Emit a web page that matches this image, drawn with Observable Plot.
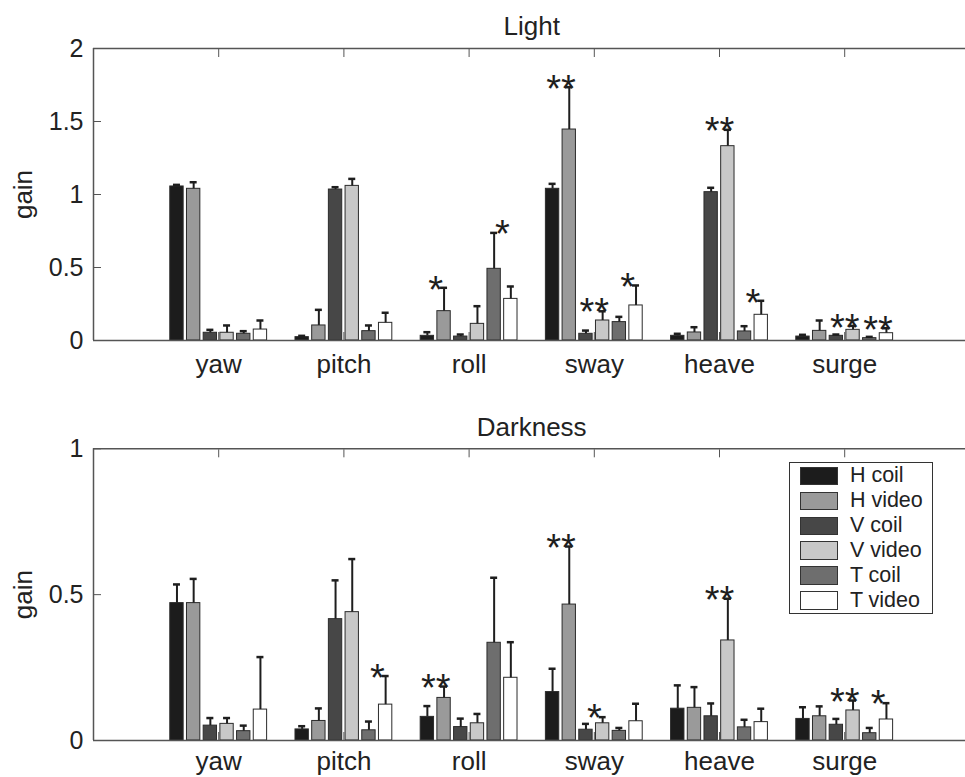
<!DOCTYPE html>
<html>
<head>
<meta charset="utf-8">
<script src="https://cdn.jsdelivr.net/npm/d3@7"></script>
<script src="https://cdn.jsdelivr.net/npm/@observablehq/plot@0.6"></script>
<style>
  html, body { margin: 0; padding: 0; background: #fff; overflow: hidden; }
  #page { position: relative; width: 965px; height: 777px; overflow: hidden; font-family: 'Liberation Sans', Arial, sans-serif; }
  .panel { position: absolute; left: 0; }
  #legend { position: absolute; left: 788.7px; top: 461.7px; width: 142.6px; height: 149.3px; border: 1.5px solid #333; background: #fff; padding-top: 1px; }
  .lrow { height: 24.9px; display: flex; align-items: center; }
  .lsw { width: 35.7px; height: 16.7px; border: 1px solid #333; margin-left: 10.5px; }
  .ltx { margin-left: 12px; font-size: 21.5px; color: #222; line-height: 1; }
</style>
</head>
<body>
<div id="page">
  <div id="p1" class="panel" style="top:0"></div>
  <div id="p2" class="panel" style="top:390px"></div>
  <div id="legend"></div>
</div>
<script>
// ---- data ----
const categories = ["yaw", "pitch", "roll", "sway", "heave", "surge"];
const series = ["H coil", "H video", "V coil", "V video", "T coil", "T video"];
const seriesColors = ["#1c1c1c", "#9a9a9a", "#474747", "#c8c8c8", "#6e6e6e", "#ffffff"];

// Light: mean gain per series (rows) and category (columns)
const lightGain = [
  [1.055, 0.023, 0.032, 1.039, 0.032, 0.027],
  [1.039, 0.103, 0.201, 1.445, 0.055, 0.066],
  [0.053, 1.034, 0.027, 0.046, 1.016, 0.032],
  [0.053, 1.059, 0.114, 0.137, 1.331, 0.073],
  [0.046, 0.064, 0.491, 0.126, 0.062, 0.016],
  [0.075, 0.121, 0.285, 0.240, 0.176, 0.050]
];
// Light: top of error bar
const lightErrTop = [
  [1.066, 0.032, 0.057, 1.073, 0.046, 0.039],
  [1.084, 0.210, 0.361, 1.735, 0.091, 0.137],
  [0.073, 1.050, 0.041, 0.068, 1.046, 0.041],
  [0.103, 1.107, 0.235, 0.200, 1.443, 0.100],
  [0.064, 0.103, 0.737, 0.162, 0.098, 0.025],
  [0.137, 0.190, 0.370, 0.377, 0.272, 0.084]
];
const lightStars = [
  {cat: "roll", ser: "H video", y: 0.41, t: "*"},
  {cat: "roll", ser: "T video", y: 0.79, t: "*"},
  {cat: "sway", ser: "H video", y: 1.78, t: "**"},
  {cat: "sway", ser: "V video", y: 0.253, t: "**"},
  {cat: "sway", ser: "T video", y: 0.43, t: "*"},
  {cat: "heave", ser: "V video", y: 1.495, t: "**"},
  {cat: "heave", ser: "T video", y: 0.32, t: "*"},
  {cat: "surge", ser: "V video", y: 0.148, t: "**"},
  {cat: "surge", ser: "T video", y: 0.13, t: "**"}
];

// Darkness
const darkGain = [
  [0.471, 0.038, 0.081, 0.166, 0.109, 0.074],
  [0.471, 0.067, 0.146, 0.466, 0.112, 0.083],
  [0.051, 0.416, 0.046, 0.037, 0.083, 0.054],
  [0.057, 0.440, 0.059, 0.059, 0.343, 0.103],
  [0.032, 0.035, 0.335, 0.033, 0.045, 0.025],
  [0.106, 0.123, 0.215, 0.066, 0.063, 0.072]
];
const darkErrTop = [
  [0.535, 0.049, 0.118, 0.246, 0.189, 0.114],
  [0.554, 0.110, 0.185, 0.665, 0.183, 0.117],
  [0.077, 0.549, 0.075, 0.057, 0.127, 0.074],
  [0.077, 0.622, 0.091, 0.080, 0.486, 0.137],
  [0.051, 0.065, 0.558, 0.043, 0.071, 0.043],
  [0.286, 0.221, 0.337, 0.126, 0.109, 0.128]
];
const darkStars = [
  {cat: "pitch", ser: "T video", y: 0.246, t: "*"},
  {cat: "roll", ser: "H video", y: 0.211, t: "**"},
  {cat: "sway", ser: "H video", y: 0.689, t: "**"},
  {cat: "sway", ser: "V video", y: 0.109, t: "*"},
  {cat: "heave", ser: "V video", y: 0.512, t: "**"},
  {cat: "surge", ser: "V video", y: 0.163, t: "**"},
  {cat: "surge", ser: "T video", y: 0.154, t: "*"}
];

// ---- layout helpers ----
const slot = 0.8 / series.length;
const barW = slot * 0.8;
const center = (ci, si) => ci + 1 + (si - (series.length - 1) / 2) * slot;

function rowsFrom(gain, top) {
  const rows = [];
  series.forEach((s, si) => categories.forEach((c, ci) => {
    rows.push({ser: s, cat: c, xc: center(ci, si), v: gain[si][ci], top: top[si][ci]});
  }));
  return rows;
}

const FONT = "'Liberation Sans', Arial, sans-serif";
const AX = "#555";

function panel({gain, top, stars, yMax, yTicks, title, height, marginTop, marginBottom, labelPad}) {
  const rows = rowsFrom(gain, top);
  const starRows = stars.map(d => ({
    ...d,
    x: center(categories.indexOf(d.cat), series.indexOf(d.ser)) - slot / 2
  }));
  return Plot.plot({
    width: 965,
    height,
    marginLeft: 93,
    marginRight: 0,
    marginTop,
    marginBottom,
    style: {fontFamily: FONT, fontSize: "25px", color: "#222", background: "white", overflow: "hidden"},
    x: {domain: [0, 7], range: [93, 969.4]},
    y: {domain: [0, yMax]},
    color: {domain: series, range: seriesColors},
    marks: [
      Plot.rect(rows, {x1: d => d.xc - barW / 2, x2: d => d.xc + barW / 2, y1: 0, y2: "v", fill: "ser", stroke: "#2b2b2b", strokeWidth: 1}),
      Plot.ruleX(rows, {x: "xc", y1: "v", y2: "top", stroke: "#1e1e1e", strokeWidth: 2}),
      Plot.ruleY(rows, {y: "top", x1: "xc", x2: "xc", insetLeft: -3.5, insetRight: -3.5, stroke: "#1e1e1e", strokeWidth: 2.5}),
      Plot.text(starRows, {x: "x", y: "y", text: "t", fontSize: 38, dy: 9.7, fill: "#1e1e1e", textAnchor: "middle"}),
      Plot.axisY({ticks: yTicks, tickFormat: d => String(d), tickSize: 8, dx: 8, tickPadding: 10, stroke: AX, fill: "#222", fontSize: 25, label: null}),
      Plot.axisX({ticks: [1, 2, 3, 4, 5, 6], tickFormat: i => categories[i - 1], tickSize: 8, dy: -8, tickPadding: labelPad, stroke: AX, fill: "#222", fontSize: 26, label: null}),
      Plot.axisX({anchor: "top", ticks: [1, 2, 3, 4, 5, 6], tickFormat: () => "", tickSize: 8, dy: 8, stroke: AX, label: null}),
      // axes box (its right side lies beyond the picture's edge, as in the reference)
      Plot.ruleY([0, yMax], {stroke: AX, strokeWidth: 1.5}),
      Plot.ruleX([0], {stroke: AX, strokeWidth: 1.5}),
      Plot.text([title], {frameAnchor: "top", lineAnchor: "middle", textAnchor: "middle", dx: 2.2, dy: -21.5, fontSize: 26, fill: "#222"}),
      Plot.text(["gain"], {frameAnchor: "left", lineAnchor: "middle", textAnchor: "middle", rotate: -90, dx: -70, fontSize: 26, fill: "#222"})
    ]
  });
}

document.getElementById("p1").appendChild(panel({
  gain: lightGain, top: lightErrTop, stars: lightStars, yMax: 2, yTicks: [0, 0.5, 1, 1.5, 2],
  title: "Light", height: 390, marginTop: 48, marginBottom: 50, labelPad: 14.5
}));
document.getElementById("p2").appendChild(panel({
  gain: darkGain, top: darkErrTop, stars: darkStars, yMax: 1, yTicks: [0, 0.5, 1],
  title: "Darkness", height: 387, marginTop: 58.3, marginBottom: 37, labelPad: 11
}));

// legend
const legend = document.getElementById("legend");
series.forEach((s, i) => {
  const row = document.createElement("div");
  row.className = "lrow";
  const sw = document.createElement("div");
  sw.className = "lsw";
  sw.style.background = seriesColors[i];
  const tx = document.createElement("div");
  tx.className = "ltx";
  tx.textContent = s;
  row.appendChild(sw);
  row.appendChild(tx);
  legend.appendChild(row);
});
</script>
</body>
</html>
